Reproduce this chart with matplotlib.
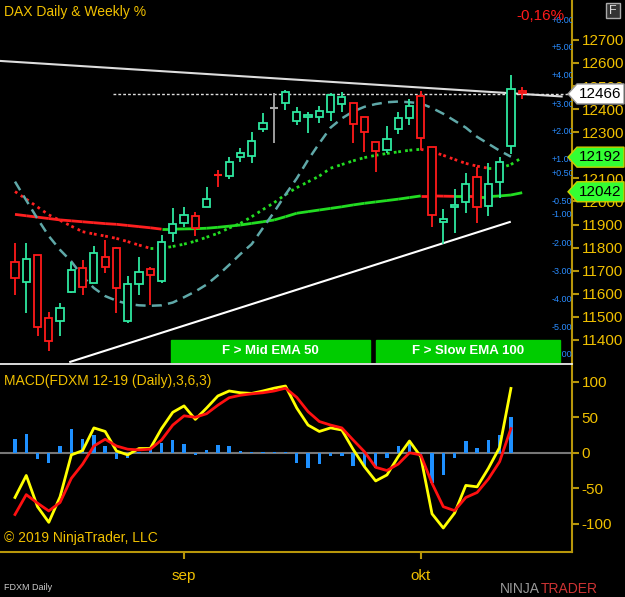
import matplotlib
matplotlib.use("Agg")
import matplotlib.pyplot as plt
import matplotlib.transforms as mtrans
from matplotlib.patches import Polygon, Rectangle
import numpy as np

plt.rcParams['font.family'] = ['Liberation Sans', 'DejaVu Sans']

opens  = [11739,11653,11768,11494,11480,11609,11711,11646,11758,11797,11484,11643,11706,11657,11865,11908,11937,11975,12119,12112,12191,12199,12316,12407,12425,12350,
          12365,12368,12389,12422,12425,12365,12259,12223,12313,12360,12457,12235,11911,11978,11996,12105,11982,12086,12240,12477]
highs  = [11819,11819,11768,11523,11559,11739,11747,11807,11833,11804,11677,11761,11718,11855,11970,11978,11956,12061,12136,12191,12230,12303,12382,12469,12483,12411,
          12389,12414,12471,12473,12425,12365,12259,12327,12389,12443,12480,12235,11966,12053,12122,12151,12165,12191,12548,12495]
lows   = [11595,11516,11417,11350,11417,11602,11595,11646,11689,11516,11475,11595,11552,11646,11826,11888,11851,11975,12064,12097,12173,12165,12303,12255,12396,12331,
          12295,12342,12350,12389,12252,12216,12129,12212,12292,12331,12223,11888,11816,11862,11952,11905,11937,12014,12204,12443]
closes = [11667,11749,11458,11396,11537,11703,11631,11776,11715,11624,11643,11693,11680,11826,11901,11940,11884,12009,12115,12170,12209,12262,12339,12407,12473,12389,
          12375,12394,12461,12451,12336,12303,12220,12272,12360,12414,12274,11942,11926,11986,12074,11975,12074,12173,12489,12469]

ema100 = [11944,11938,11932,11926,11920,11916,11912,11908,11904,11901,11896,11891,11886,11880,11880,11881,11882,11884,11888,11893,
          11898,11905,11912,11920,11934,11949,11956,11963,11970,11977,11985,11992,11998,12004,12010,12017,12024,12024,12023,12022,
          12022,12021,12021,12024,12028,12038]
ema50 = [12043,12010,11976,11942,11918,11893,11869,11859,11850,11840,11826,11811,11797,11797,11805,11815,11828,11845,11862,11885,
         11905,11934,11965,11995,12030,12060,12085,12110,12144,12160,12176,12190,12200,12208,12215,12222,12226,12216,12200,12182,
         12165,12153,12144,12144,12160,12191]
fast = [12086,12005,11925,11850,11790,11740,11675,11625,11590,11570,11556,11550,11548,11550,11562,11585,11610,11640,11680,11725,
        11772,11815,11885,11955,12030,12100,12180,12252,12320,12360,12390,12410,12422,12430,12433,12430,12425,12405,12380,12350,
        12320,12280,12250,12220,12194]

macd = [-63,-32,-76,-98,-62,-3,3,35,30,2.5,-3,6,6,34,57,66,47,63,80,87,84.5,83.6,87,91,94,63,39,30,
        35,32,4.8,-19.6,-39.7,-31.3,-5.5,16.5,-5.5,-86,-106,-85,-46,-48,-22,7.6,90.6]
signal = [-87,-59,-71,-82,-70,-36,-16,9.5,19,9.5,5,4,5,18,39,52,50,55,67,77.5,81,83,84.5,87,91,78,58,44,
          39,35,18,1.5,-20.5,-25,-16,0,-3,-43,-76,-81.5,-63,-56,-37,-12.5,34]
hist = [20,26,-9,-14,10,33,19,25,9,-9,-7,1,5,14,18,12,-3,4,11,9,2,1,1,1,1,-14,-21,-16,
        -4,-4,-19,-20,-21,-7,9,16,-6,-43,-31,-7,17,7,18,25,51]

month_pos = [15, 36]
month_labels = ["sep", "okt"]
price_ticks = [12700,12600,12500,12400,12300,12200,12100,12000,11900,11800,11700,11600,11500,11400]
pct_labels = ["+6.00","+5.00","+4.00","+3.00","+2.00","+1.00","+0.50","-0.50","-1.00","-2.00","-3.00","-4.00","-5.00","-6.00"]
pct_prices = [12786,12665,12544,12418,12301,12184,12119,12002,11942,11820,11695,11574,11453,11336]
macd_ticks = [100,50,0,-50,-100]
upper_line = [(-1.33, 12609), (48.5, 12455)]
lower_line = [(4.9, 11305), (43.9, 11911)]
level_last, level_mid, level_slow = 12466, 12192, 12042

GOLD = "#f0c000"; AX = "#b8960a"
W, H = 625, 597
fig = plt.figure(figsize=(6.25, 5.97), dpi=100, facecolor="black")
ax = fig.add_axes([0, 1-363/H, 572/W, 363/H], facecolor="black")
mx = fig.add_axes([0, 45/H, 572/W, 188/H], facecolor="black")
xmin, xmax = -1.33, 49.42
ymin, ymax = 11300, 12873

n = len(closes)
idx = np.arange(n)
for i in range(n):
    o, c = opens[i], closes[i]
    if c > o: col = "#2ee8a0"
    elif c < o: col = "#ff1a1a"
    else: col = "#aaaaaa"
    ax.vlines(i, lows[i], highs[i], color=col, lw=1.3, zorder=3)
    if abs(c-o) < 6:
        ax.hlines(c, i-0.35, i+0.35, color=col, lw=1.5, zorder=4)
    else:
        ax.add_patch(Rectangle((i-0.32, min(o, c)), 0.64, abs(c-o), facecolor="black",
                               edgecolor=col, lw=1.3, zorder=4))

for i in range(n-1):
    col = "#ff2020" if closes[i+1] < ema100[i+1] else "#22dd22"
    ax.plot([i, i+1], [ema100[i], ema100[i+1]], color=col, lw=2, zorder=2, solid_capstyle="butt")
for i in range(n-1):
    col = "#ff2020" if closes[i+1] < ema50[i+1] else "#22dd22"
    ax.plot([i, i+1], [ema50[i], ema50[i+1]], color=col, lw=2, ls=(0, (1, 1.5)), zorder=2)
ax.plot(idx[:len(fast)], fast, color="#5fa8a8", lw=1.8, ls=(0, (4, 2.5)), zorder=2)

ax.plot(*zip(*upper_line), color="#dddddd", lw=1.5, zorder=1)
ax.plot(*zip(*lower_line), color="white", lw=1.5, zorder=1)
ax.hlines(level_last, 8.7, xmax, color="#dddddd", lw=1, ls=(0, (2, 1.5)), zorder=1)

ax.set_xlim(xmin, xmax); ax.set_ylim(ymin, ymax)
ax.set_xticks([])
ax.yaxis.tick_right()
ax.set_yticks(price_ticks)
ax.set_yticklabels([str(t) for t in price_ticks], fontsize=11)
ax.tick_params(axis="y", colors=AX, labelcolor=GOLD, length=5, width=1.5, direction="out", pad=2)
for s in ["top", "left", "bottom"]:
    ax.spines[s].set_visible(False)
ax.spines["right"].set_color(AX); ax.spines["right"].set_linewidth(1.5)

blend = mtrans.blended_transform_factory(ax.transAxes, ax.transData)
for lab, p in zip(pct_labels, pct_prices):
    ax.text(552/572, p, lab, transform=blend, color="#2a8cff", fontsize=6.5,
            va="center", ha="left", clip_on=True)

ax.add_patch(Rectangle((171/572, 0), 199/572, 23/363, transform=ax.transAxes, color="#00cc00", zorder=6))
ax.add_patch(Rectangle((376/572, 0), 184/572, 23/363, transform=ax.transAxes, color="#00cc00", zorder=6))
ax.text(270/572, 11.5/363, "F > Mid EMA 50", transform=ax.transAxes, color="white", fontsize=9.5,
        fontweight="bold", ha="center", va="center", zorder=7)
ax.text(468/572, 11.5/363, "F > Slow EMA 100", transform=ax.transAxes, color="white", fontsize=9.5,
        fontweight="bold", ha="center", va="center", zorder=7)

def flag(price, fc, txt):
    yf = (1-363/H) + (price-ymin)/(ymax-ymin)*363/H
    hh = 10/H
    pts = [(568/W, yf), (577/W, yf+hh), (624/W, yf+hh), (624/W, yf-hh), (577/W, yf-hh)]
    fig.patches.append(Polygon(pts, closed=True, transform=fig.transFigure, facecolor=fc,
                               edgecolor="#cccc00" if fc != "white" else "#999999", lw=1, zorder=5))
    fig.text(600/W, yf, txt, color="black", fontsize=11, ha="center", va="center", zorder=6)
flag(level_last, "white", str(level_last))
flag(level_mid, "#33ff33", str(level_mid))
flag(level_slow, "#33ff33", str(level_slow))

fig.text(4/W, 1-12/H, "DAX Daily & Weekly %", color=GOLD, fontsize=10, va="center")
fig.text(540/W, 1-16/H, "-0,16%", color="#ff1a1a", fontsize=11, va="center", ha="center")
fig.patches.append(Rectangle((606/W, 1-18/H), 14/W, 15/H, transform=fig.transFigure,
                             facecolor="#333333", edgecolor="#aaaaaa", lw=1))
fig.text(613/W, 1-10.5/H, "F", color="#dddddd", fontsize=9, ha="center", va="center")
fig.lines.append(plt.Line2D([0, 572/W], [1-364/H, 1-364/H], transform=fig.transFigure, color="white", lw=1.2))

mi = np.arange(len(macd))
mx.bar(mi, hist, width=0.3, color="#1e90ff", zorder=2)
mx.axhline(0, color="#777777", lw=1.5, zorder=1)
mx.plot(mi, macd, color="#ffff00", lw=2, zorder=3)
mx.plot(mi, signal, color="#ff1010", lw=2, zorder=4)
mx.set_xlim(xmin, xmax); mx.set_ylim(-139.8, 125)
mx.yaxis.tick_right()
mx.set_yticks(macd_ticks)
mx.set_yticklabels([str(t) for t in macd_ticks], fontsize=11)
mx.tick_params(axis="y", colors=AX, labelcolor=GOLD, length=5, width=1.5, pad=2)
mx.set_xticks(month_pos)
mx.set_xticklabels(month_labels, fontsize=11)
mx.tick_params(axis="x", colors=AX, labelcolor=GOLD, length=5, width=1.5, pad=7)
for s in ["top", "left"]:
    mx.spines[s].set_visible(False)
for s in ["right", "bottom"]:
    mx.spines[s].set_color(AX); mx.spines[s].set_linewidth(1.5)
mx.text(4/572, 1-17/188, "MACD(FDXM 12-19 (Daily),3,6,3)", transform=mx.transAxes, color=GOLD,
        fontsize=10, va="center")
mx.text(4/572, 1-174/188, "\u00a9 2019 NinjaTrader, LLC", transform=mx.transAxes, color=GOLD,
        fontsize=10, va="center")
fig.text(4/W, 1-588/H, "FDXM Daily", color="#cccccc", fontsize=6.5, va="center")
fig.text(500/W, 1-589/H, "NINJA", color="#999999", fontsize=10, va="center")
fig.text(541/W, 1-589/H, "TRADER", color="#cc3333", fontsize=10, va="center")

fig.savefig("out.png", dpi=100, facecolor="black")
